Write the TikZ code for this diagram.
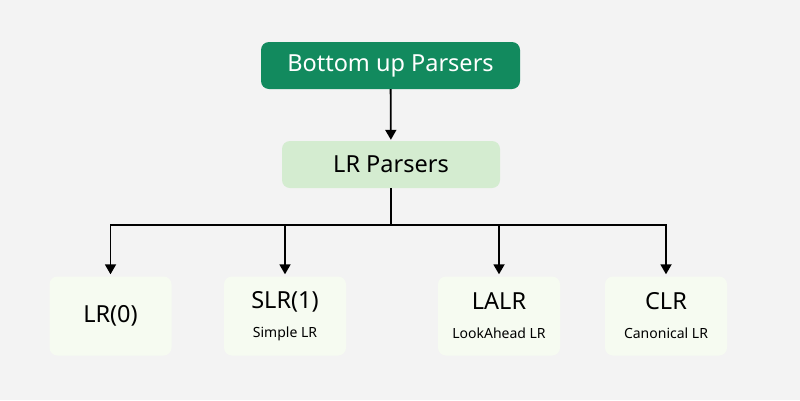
\documentclass[tikz,border=0pt]{standalone}
\usepackage{fontspec}
\setmainfont{Noto Sans}
\usetikzlibrary{arrows.meta,positioning}
\definecolor{bgray}{HTML}{F3F3F3}
\definecolor{dgreen}{HTML}{128A5E}
\definecolor{lgreen}{HTML}{D4ECD0}
\definecolor{pgreen}{HTML}{F6FBF1}

\begin{document}
\begin{tikzpicture}[x=1pt,y=-1pt,>={Triangle[length=10pt,width=11pt]},
 every node/.style={font=\fontsize{23.5}{26}\selectfont},
 rootbox/.style={fill=dgreen,text=white,rounded corners=8pt,minimum width=259pt,minimum height=47pt},
 midbox/.style={fill=lgreen,rounded corners=8pt,minimum width=218pt,minimum height=47pt},
 leafbox/.style={fill=pgreen,rounded corners=8pt,minimum width=122pt,minimum height=79pt,align=center},
 link/.style={line width=1.8pt,shorten >=2pt}]
\useasboundingbox[fill=bgray](0,0) rectangle (800,400);
\node[rootbox](root) at (390.5,65.5){Bottom up Parsers};
\node[midbox](lr) at (391,164.5){LR Parsers};
\node[leafbox](lr0) at (110.5,316){LR(0)};
\node[leafbox](slr) at (285,316){SLR(1)\\[3pt]{\fontsize{14}{16}\selectfont Simple LR}};
\node[leafbox](lalr) at (499,316){LALR\\[3pt]{\fontsize{14}{16}\selectfont LookAhead LR}};
\node[leafbox](clr) at (666,316){CLR\\[3pt]{\fontsize{14}{16}\selectfont Canonical LR}};
\coordinate(hub) at (391,225);
\draw[link,->,shorten >=1pt](root)--(lr);
\draw[link,shorten >=0pt](lr)--(hub);
\draw[link,->](hub)-|(lr0);\draw[link,->](hub)-|(slr);
\draw[link,->](hub)-|(lalr);\draw[link,->](hub)-|(clr);
\end{tikzpicture}
\end{document}
